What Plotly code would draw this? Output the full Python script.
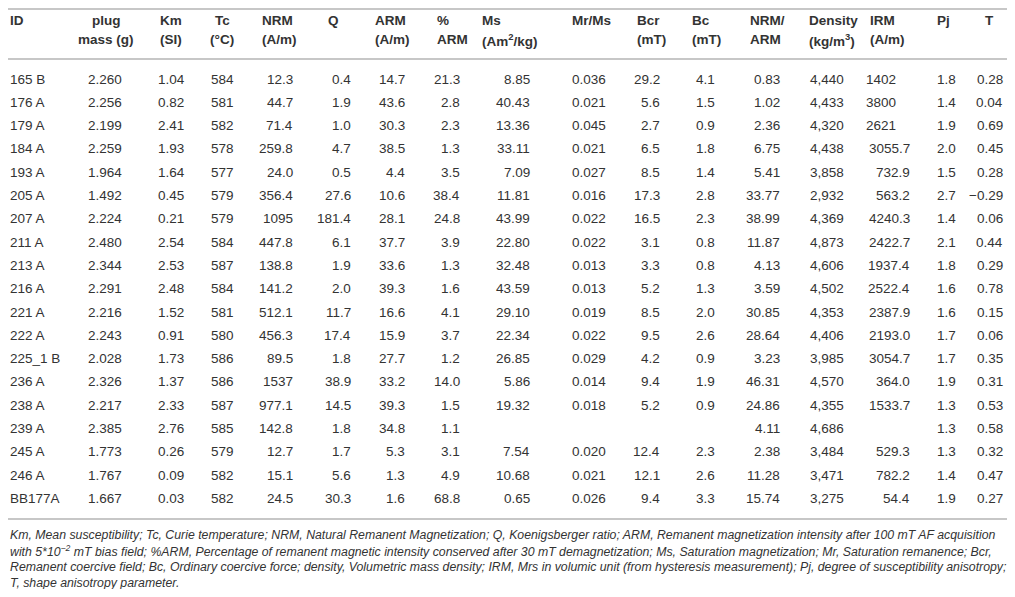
import plotly.graph_objects as go

# the page puts the figure 8 px in from the window corner; keep it inside the
# window so no scrollbars appear
PAGE_W, PAGE_H = 1015, 597
OX, OY = 8, 8
W, H = PAGE_W - 2 * OX, PAGE_H - 2 * OY
FONT = "Liberation Sans, Arial, sans-serif"
TXT = "#333333"
RULE = "#b4b4b4"

sample_id = ["165 B", "176 A", "179 A", "184 A", "193 A", "205 A", "207 A", "211 A", "213 A", "216 A",
             "221 A", "222 A", "225_1 B", "236 A", "238 A", "239 A", "245 A", "246 A", "BB177A"]
plug_mass = ["2.260", "2.256", "2.199", "2.259", "1.964", "1.492", "2.224", "2.480", "2.344", "2.291",
             "2.216", "2.243", "2.028", "2.326", "2.217", "2.385", "1.773", "1.767", "1.667"]
km = ["1.04", "0.82", "2.41", "1.93", "1.64", "0.45", "0.21", "2.54", "2.53", "2.48",
      "1.52", "0.91", "1.73", "1.37", "2.33", "2.76", "0.26", "0.09", "0.03"]
tc = ["584", "581", "582", "578", "577", "579", "579", "584", "587", "584",
      "581", "580", "586", "586", "587", "585", "579", "582", "582"]
nrm = ["12.3", "44.7", "71.4", "259.8", "24.0", "356.4", "1095", "447.8", "138.8", "141.2",
       "512.1", "456.3", "89.5", "1537", "977.1", "142.8", "12.7", "15.1", "24.5"]
q_ratio = ["0.4", "1.9", "1.0", "4.7", "0.5", "27.6", "181.4", "6.1", "1.9", "2.0",
           "11.7", "17.4", "1.8", "38.9", "14.5", "1.8", "1.7", "5.6", "30.3"]
arm = ["14.7", "43.6", "30.3", "38.5", "4.4", "10.6", "28.1", "37.7", "33.6", "39.3",
       "16.6", "15.9", "27.7", "33.2", "39.3", "34.8", "5.3", "1.3", "1.6"]
pct_arm = ["21.3", "2.8", "2.3", "1.3", "3.5", "38.4", "24.8", "3.9", "1.3", "1.6",
           "4.1", "3.7", "1.2", "14.0", "1.5", "1.1", "3.1", "4.9", "68.8"]
ms = ["8.85", "40.43", "13.36", "33.11", "7.09", "11.81", "43.99", "22.80", "32.48", "43.59",
      "29.10", "22.34", "26.85", "5.86", "19.32", "", "7.54", "10.68", "0.65"]
mr_ms = ["0.036", "0.021", "0.045", "0.021", "0.027", "0.016", "0.022", "0.022", "0.013", "0.013",
         "0.019", "0.022", "0.029", "0.014", "0.018", "", "0.020", "0.021", "0.026"]
bcr = ["29.2", "5.6", "2.7", "6.5", "8.5", "17.3", "16.5", "3.1", "3.3", "5.2",
       "8.5", "9.5", "4.2", "9.4", "5.2", "", "12.4", "12.1", "9.4"]
bc = ["4.1", "1.5", "0.9", "1.8", "1.4", "2.8", "2.3", "0.8", "0.8", "1.3",
      "2.0", "2.6", "0.9", "1.9", "0.9", "", "2.3", "2.6", "3.3"]
nrm_arm = ["0.83", "1.02", "2.36", "6.75", "5.41", "33.77", "38.99", "11.87", "4.13", "3.59",
           "30.85", "28.64", "3.23", "46.31", "24.86", "4.11", "2.38", "11.28", "15.74"]
density = ["4,440", "4,433", "4,320", "4,438", "3,858", "2,932", "4,369", "4,873", "4,606", "4,502",
           "4,353", "4,406", "3,985", "4,570", "4,355", "4,686", "3,484", "3,471", "3,275"]
irm = ["1402", "3800", "2621", "3055.7", "732.9", "563.2", "4240.3", "2422.7", "1937.4", "2522.4",
       "2387.9", "2193.0", "3054.7", "364.0", "1533.7", "", "529.3", "782.2", "54.4"]
pj = ["1.8", "1.4", "1.9", "2.0", "1.5", "2.7", "1.4", "2.1", "1.8", "1.6",
      "1.6", "1.7", "1.7", "1.9", "1.3", "1.3", "1.3", "1.4", "1.9"]
t_shape = ["0.28", "0.04", "0.69", "0.45", "0.28", "\u22120.29", "0.06", "0.44", "0.29", "0.78",
           "0.15", "0.06", "0.35", "0.31", "0.53", "0.58", "0.32", "0.47", "0.27"]

footnote = [
    "Km, Mean susceptibility; Tc, Curie temperature; NRM, Natural Remanent Magnetization; Q, Koenigsberger ratio; "
    "ARM, Remanent magnetization intensity after 100 mT AF acquisition",
    "with 5*10<sup>\u22122</sup> mT bias field; %ARM, Percentage of remanent magnetic intensity conserved after 30 mT "
    "demagnetization; Ms, Saturation magnetization; Mr, Saturation remanence; Bcr,",
    "Remanent coercive field; Bc, Ordinary coercive force; density, Volumetric mass density; IRM, Mrs in volumic unit "
    "(from hysteresis measurement); Pj, degree of susceptibility anisotropy;",
    "T, shape anisotropy parameter.",
]

# column layout (window px): header lines, values, (header x, anchor), (value x, anchor)
columns = [
    (["ID"], sample_id, (3, "left"), (3, "left")),
    (["plug", "mass (g)"], plug_mass, (106, "center"), (105, "center")),
    (["Km", "(SI)"], km, (171, "center"), (171, "center")),
    (["Tc", "(°C)"], tc, (222, "center"), (222, "center")),
    (["NRM", "(A/m)"], nrm, (260, "left"), (295, "right")),
    (["Q"], q_ratio, (326, "left"), (353, "right")),
    (["ARM", "(A/m)"], arm, (373, "left"), (407, "right")),
    (["%", "ARM"], pct_arm, (435, "left"), (462, "right")),
    (["Ms", "(Am<sup>2</sup>/kg)"], ms, (480, "left"), (532, "right")),
    (["Mr/Ms"], mr_ms, (570, "left"), (570, "left")),
    (["Bcr", "(mT)"], bcr, (635, "left"), (662, "right")),
    (["Bc", "(mT)"], bc, (690, "left"), (717, "right")),
    (["NRM/", "ARM"], nrm_arm, (748, "left"), (782, "right")),
    (["Density", "(kg/m<sup>3</sup>)"], density, (807, "left"), (808, "left")),
    (["IRM", "(A/m)"], irm, (868, "left"), (912, "right")),
    (["Pj"], pj, (935, "left"), (935, "left")),
    (["T"], t_shape, (989, "center"), (1005, "right")),
]
DEC_SHIFT = 14  # IRM: whole numbers sit on the decimal point

ROW0, ROW = 79, 23.3
HEAD_Y = [21, 39.5]
SIZE = 13.5
NOTE_Y, NOTE_STEP = 535, 16


def px(x):
    return max(x - OX, 0) / W


def py(y):
    return 1 - max(y - OY, 1) / H


fig = go.Figure(
    go.Scatter(x=[0] * len(sample_id), y=sample_id, mode="markers",
               marker=dict(opacity=0), hoverinfo="skip", showlegend=False)
)

for head, vals, (hx, ha), (vx, va) in columns:
    for k, line in enumerate(head):
        fig.add_annotation(
            text=f"<b>{line}</b>", xref="paper", yref="paper", x=px(hx), y=py(HEAD_Y[k]),
            xanchor=ha, yanchor="middle", showarrow=False,
            font=dict(family=FONT, size=SIZE, color=TXT),
        )
    for sid, v in zip(sample_id, vals):
        if not v:
            continue
        x = vx
        if vals is irm and "." not in v:
            x -= DEC_SHIFT
        fig.add_annotation(
            text=v, xref="paper", yref="y", x=px(x), y=sid,
            xanchor=va, yanchor="middle", showarrow=False,
            font=dict(family=FONT, size=SIZE, color=TXT),
        )

for y_px in (3, 59, 519):
    fig.add_shape(type="line", xref="paper", yref="paper", x0=0, x1=1,
                  y0=py(y_px), y1=py(y_px), line=dict(color=RULE, width=1.5))

for i, line in enumerate(footnote):
    fig.add_annotation(
        text=f"<i>{line}</i>", xref="paper", yref="paper", x=px(3), y=py(NOTE_Y + i * NOTE_STEP),
        xanchor="left", yanchor="middle", showarrow=False,
        font=dict(family=FONT, size=12.3, color=TXT),
    )

top = ROW0 - OY
fig.update_layout(
    width=W, height=H, margin=dict(l=0, r=0, t=0, b=0),
    paper_bgcolor="white", plot_bgcolor="white",
    xaxis=dict(visible=False, range=[0, 1], fixedrange=True),
    yaxis=dict(visible=False, type="category", categoryorder="array", categoryarray=sample_id,
               range=[(H - top) / ROW, -top / ROW], fixedrange=True),
)
fig.write_html("out.html")
